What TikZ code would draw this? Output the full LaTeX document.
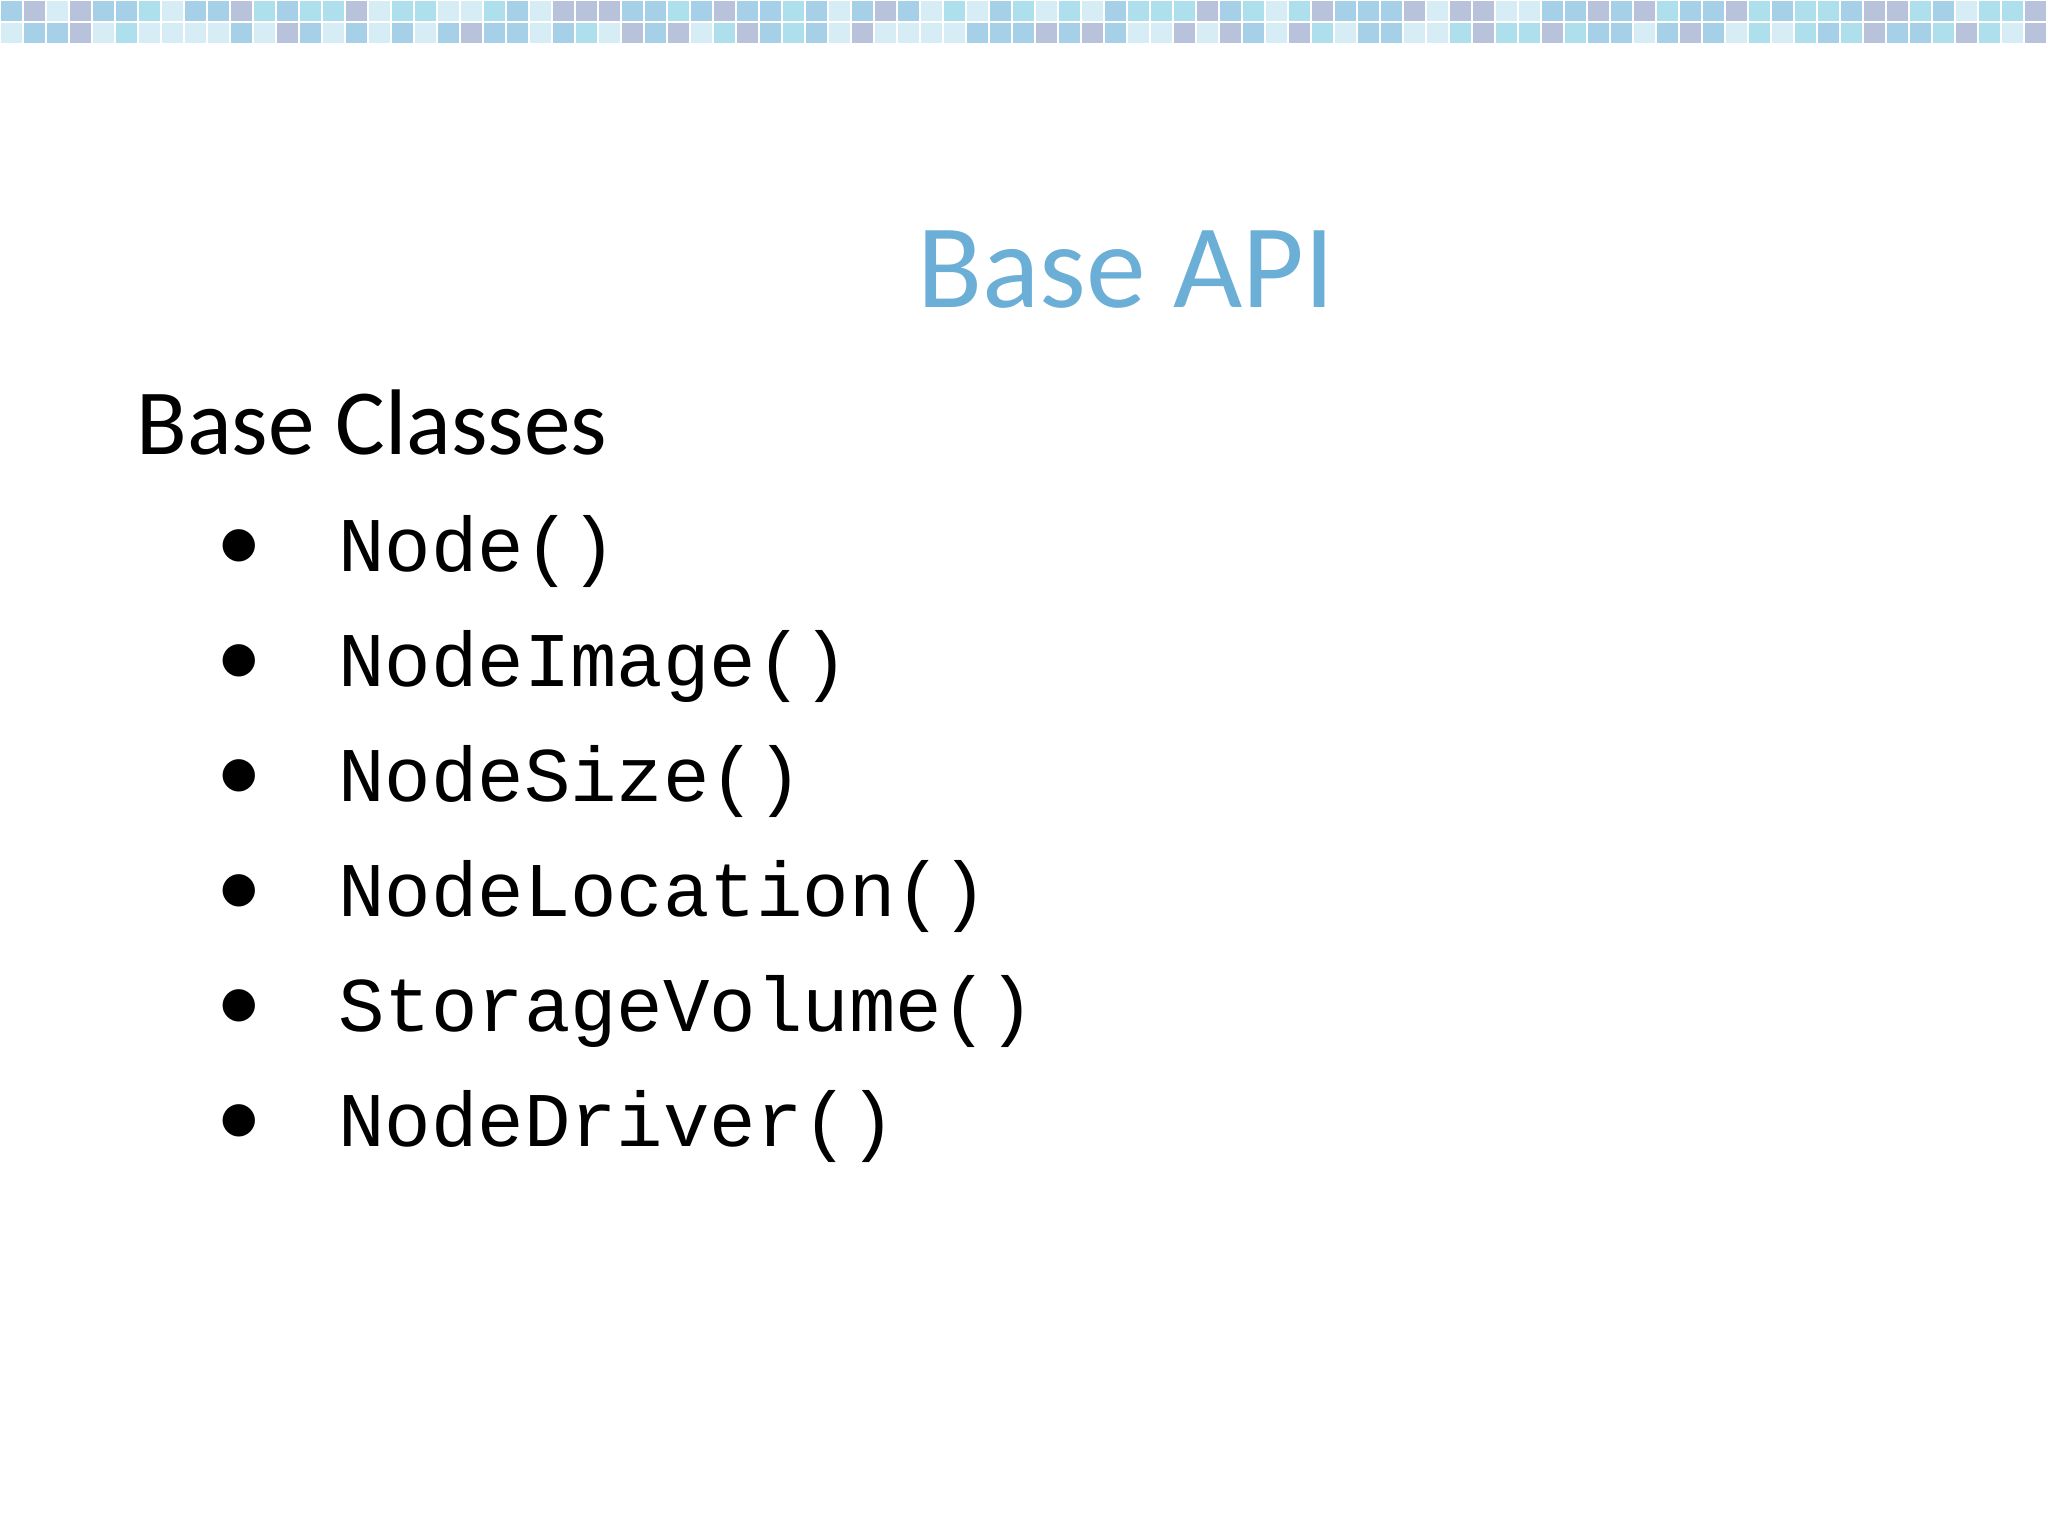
\documentclass[tikz,border=0pt]{standalone}
\usepackage{fontspec}
\setmainfont{Carlito}
\setmonofont{Liberation Mono}
\definecolor{titleblue}{RGB}{107,174,214}
\definecolor{ca}{RGB}{160,218,234}
\definecolor{cb}{RGB}{172,184,212}
\definecolor{cc}{RGB}{208,234,244}
\definecolor{cd}{RGB}{150,200,228}
\tikzset{bul/.style={anchor=base,font=\fontsize{26}{30}\selectfont},
code/.style={anchor=base west,font=\ttfamily\fontsize{22}{26}\selectfont}}
\begin{document}
\begin{tikzpicture}[x=0.01cm,y=-0.01cm]
\useasboundingbox (0,0) rectangle (2048,1536);
\fill[white] (0,0) rectangle (2048,1536);
\pgfmathsetseed{7}
\foreach \i in {0,...,88}{
  \foreach \j in {0,1}{
    \pgfmathrandominteger{\k}{1}{4}
    \ifcase\k\or\def\cc{ca}\or\def\cc{cb}\or\def\cc{cc}\or\def\cc{cd}\fi
    \fill[\cc,opacity=0.85] (\i*23+1,\j*22+1) rectangle ++(21,20);
  }
}
\node[anchor=base,text=titleblue,font=\fontsize{34}{40}\selectfont] (title) at (1126,307) {Base API};
\node[anchor=base west,font=\fontsize{26.5}{32}\selectfont] (head) at (124,454) {Base Classes};
\foreach \t [count=\n from 0] in {Node(),NodeImage(),NodeSize(),NodeLocation(),StorageVolume(),NodeDriver()}{
  \node[bul] (b\n) at (239,571+\n*115) {•};
  \node[code] (c\n) at (326,571+\n*115) {\t};
}
\end{tikzpicture}
\end{document}
